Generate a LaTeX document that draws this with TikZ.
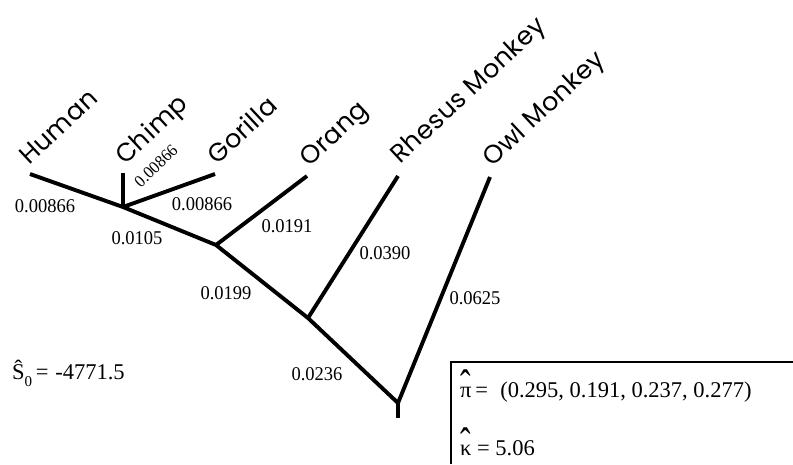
\documentclass[tikz,border=0pt]{standalone}
\usepackage{fontspec}
\setmainfont{Liberation Serif}
\newfontfamily\gothic[LetterSpace=2]{Poppins}
\newfontfamily\numfont[FakeStretch=0.95]{Liberation Serif}
% put a circumflex over an upright glyph
\newcommand{\hatover}[1]{\leavevmode\setbox0\hbox{#1}%
  \ooalign{\copy0\cr\hidewidth\raisebox{-0.1em}{\scalebox{1.4}[1.9]{ˆ}}\hidewidth\cr}}
\begin{document}
\begin{tikzpicture}[x=1pt,y=-1pt,
  branch/.style={line width=3.9pt, line cap=butt, line join=miter},
  taxon/.style={font=\gothic\fontsize{25.5}{26}\selectfont, anchor=base west,
    rotate=43, inner sep=0pt},
  blen/.style={font=\numfont\fontsize{19.5}{20}\selectfont, inner sep=0pt},
  smallblen/.style={font=\numfont\fontsize{17}{17}\selectfont, inner sep=0pt, rotate=44},
  stat/.style={font=\fontsize{22.5}{23}\selectfont, inner sep=0pt, anchor=base west}]
\useasboundingbox (0,0) rectangle (793,464);

% internal nodes and leaf tips
\coordinate (A) at (123,207);
\coordinate (B) at (216,245);
\coordinate (C) at (308,318);
\coordinate (D) at (398,403);
\coordinate (root) at (398,418);
\coordinate (tHuman) at (30,174);
\coordinate (tChimp) at (123,173);
\coordinate (tGorilla) at (215,174);
\coordinate (tOrang) at (307,176);
\coordinate (tRhesus) at (398,176);
\coordinate (tOwl) at (490,177);

% taxon names
\node[taxon] (human) at (29,166) {Human};
\node[taxon] (chimp) at (125,166) {Chimp};
\node[taxon] (gorilla) at (217,166) {Gorilla};
\node[taxon] (orang) at (309,168) {Orang};
\node[taxon] (rhesus) at (400,165) {Rhesus Monkey};
\node[taxon] (owl) at (492,168) {Owl Monkey};

% branches
\draw[branch] (tHuman) -- (A) -- (B) -- (C) -- (D) -- (tOwl);
\draw[branch] (A) -- (tChimp);
\draw[branch] (A) -- (tGorilla);
\draw[branch] (B) -- (tOrang);
\draw[branch] (C) -- (tRhesus);
\draw[branch] (D) -- (root);

% branch lengths
\node[blen] (lHuman) at (45,206) {0.00866};
\node[smallblen] (lChimp) at (156,166) {0.00866};
\node[blen] (lGorilla) at (202,204) {0.00866};
\node[blen] (lAB) at (137,238) {0.0105};
\node[blen] (lOrang) at (287,226) {0.0191};
\node[blen] (lRhesus) at (385,253) {0.0390};
\node[blen] (lBC) at (226,293) {0.0199};
\node[blen] (lCD) at (317,374) {0.0236};
\node[blen] (lOwl) at (475,298) {0.0625};

% estimates
\node[stat] (score) at (12,379) {Ŝ\raisebox{-0.33em}{\fontsize{15}{15}\selectfont 0}\,=\hspace{0.3em}-4771.5};
\draw[line width=1.5pt] (451,464) -- (451,362) -- (793,362);
\node[stat] (pi) at (460,397) {\hatover{π}\,=\hspace{0.55em}(0.295, 0.191, 0.237, 0.277)};
\node[stat] (kappa) at (460,455) {\hatover{κ} = 5.06};
\end{tikzpicture}
\end{document}
